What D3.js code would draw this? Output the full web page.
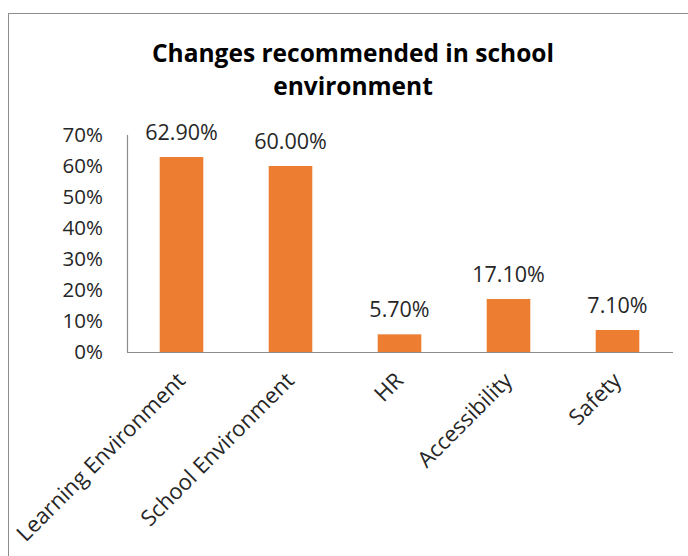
<!DOCTYPE html>
<html>
<head>
<meta charset="utf-8">
<script src="https://cdn.jsdelivr.net/npm/d3@7"></script>
<style>
  html, body { margin: 0; padding: 0; background: #fff; }
  svg { display: block; }
  text { font-family: "Open Sans", "DejaVu Sans", sans-serif; fill: #262626; }
</style>
</head>
<body>
<svg id="chart" width="688" height="556"></svg>
<script>
// Share of respondents recommending each kind of change
const categories = ["Learning Environment", "School Environment", "HR", "Accessibility", "Safety"];
const shares = [0.629, 0.600, 0.057, 0.171, 0.071];
const yTicks = [0, 0.1, 0.2, 0.3, 0.4, 0.5, 0.6, 0.7];
const titleLines = ["Changes recommended in school", "environment"];

const svg = d3.select("#chart");
const plot = { left: 127, right: 672, top: 135, bottom: 352 };

// Chart frame (runs off the right and bottom of the canvas)
svg.append("rect")
  .attr("x", 8.5).attr("y", 13.5)
  .attr("width", 720).attr("height", 600)
  .attr("fill", "#fff").attr("stroke", "#8c8c8c").attr("stroke-width", 1);

// Title
svg.append("text")
  .attr("x", 353).attr("y", 62)
  .attr("text-anchor", "middle")
  .style("font-size", "24.5px").style("font-weight", "bold").style("fill", "#000")
  .selectAll("tspan").data(titleLines).join("tspan")
  .attr("x", 353).attr("dy", (d, i) => i === 0 ? 0 : 33)
  .text(d => d);

const x = d3.scaleBand()
  .domain(categories)
  .range([plot.left, plot.right])
  .paddingInner(0.6)
  .paddingOuter(0.3);

const y = d3.scaleLinear()
  .domain([0, 0.7])
  .range([plot.bottom, plot.top]);

// Y axis: labels only, with the vertical rule drawn separately
const yAxis = d3.axisLeft(y)
  .tickValues(yTicks)
  .tickFormat(d3.format(".0%"))
  .tickSize(0)
  .tickPadding(24);

const gy = svg.append("g")
  .attr("transform", `translate(${plot.left},0)`)
  .call(yAxis);
gy.select(".domain").remove();
gy.selectAll("text")
  .style("font-size", "20.5px")
  .style("font-family", "'Open Sans', sans-serif")
  .style("fill", "#262626");

svg.append("line")
  .attr("x1", plot.left + 0.5).attr("x2", plot.left + 0.5)
  .attr("y1", plot.top).attr("y2", plot.bottom)
  .attr("stroke", "#8c8c8c").attr("stroke-width", 1.2);

// Bars
svg.append("g").selectAll("rect")
  .data(categories)
  .join("rect")
  .attr("x", d => x(d))
  .attr("width", x.bandwidth())
  .attr("y", (d, i) => y(shares[i]))
  .attr("height", (d, i) => y(0) - y(shares[i]))
  .attr("fill", "#ED7D31");

// X axis baseline
svg.append("line")
  .attr("x1", plot.left).attr("x2", plot.right + 1)
  .attr("y1", plot.bottom + 0.5).attr("y2", plot.bottom + 0.5)
  .attr("stroke", "#8c8c8c").attr("stroke-width", 1.2);

// Value labels
svg.append("g").selectAll("text")
  .data(categories)
  .join("text")
  .attr("x", d => x(d) + x.bandwidth() / 2)
  .attr("y", (d, i) => y(shares[i]) - 17)
  .attr("text-anchor", "middle")
  .style("font-size", "21.5px")
  .text((d, i) => d3.format(".2%")(shares[i]));

// Rotated category labels
svg.append("g").selectAll("text")
  .data(categories)
  .join("text")
  .attr("text-anchor", "end")
  .attr("transform", d => `translate(${x(d) + x.bandwidth() / 2 + 5},${plot.bottom + 30}) rotate(-45)`)
  .style("font-size", "22px")
  .text(d => d);
</script>
</body>
</html>
